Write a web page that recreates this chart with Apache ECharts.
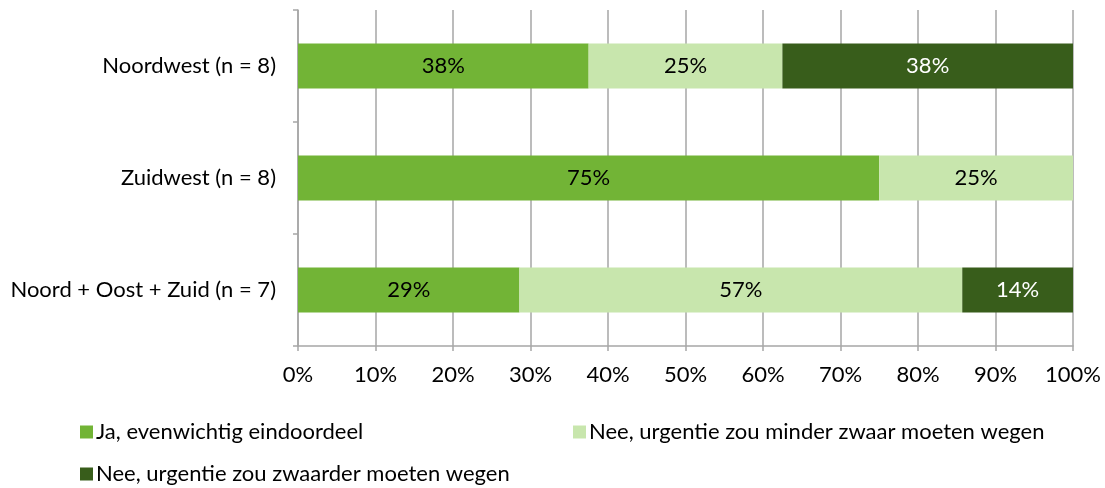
<!DOCTYPE html>
<html>
<head>
<meta charset="utf-8">
<script src="https://cdn.jsdelivr.net/npm/echarts@6/dist/echarts.min.js"></script>
<style>
html, body { margin: 0; padding: 0; background: #fff; }
#main { width: 1105px; height: 488px; }
</style>
</head>
<body>
<div id="main"></div>
<script>
// regio's van boven naar beneden
var regios = ['Noordwest (n = 8)', 'Zuidwest (n = 8)', 'Noord + Oost + Zuid (n = 7)'];
var reeksNamen = ['Ja, evenwichtig eindoordeel', 'Nee, urgentie zou minder zwaar moeten wegen', 'Nee, urgentie zou zwaarder moeten wegen'];
var jaEvenwichtig = [37.5, 75, 28.57];
var minderZwaar = [25, 25, 57.14];
var zwaarder = [37.5, 0, 14.29];
var xTicks = [0, 10, 20, 30, 40, 50, 60, 70, 80, 90, 100];

var kleuren = ['#72b436', '#c8e6ad', '#385d1b'];
var tekstKleur = ['#000', '#000', '#fff'];
var waarden = [jaEvenwichtig, minderZwaar, zwaarder];
var font = 'Lato';
var fs = 22;

var chart = echarts.init(document.getElementById('main'));

var series = reeksNamen.map(function (naam, i) {
    return {
        name: naam,
        type: 'bar',
        stack: 'totaal',
        barWidth: 45,
        data: waarden[i],
        itemStyle: { color: kleuren[i] },
        label: {
            show: true,
            position: 'inside',
            color: tekstKleur[i],
            fontFamily: font,
            fontSize: fs,
            formatter: function (p) {
                return p.value > 0 ? Math.round(p.value) + '%' : '';
            }
        }
    };
});

// legenda: drie losse blokken zoals in het origineel
var legendPos = [[75, 416], [568, 416], [75, 458]];
var legend = reeksNamen.map(function (naam, i) {
    return {
        left: legendPos[i][0],
        top: legendPos[i][1],
        data: [naam],
        itemWidth: 13,
        itemHeight: 13,
        itemGap: 0,
        icon: 'rect',
        selectedMode: false,
        textStyle: { fontFamily: font, fontSize: fs, color: '#000', padding: [0, 0, 0, -2] }
    };
});

var option = {
    animation: false,
    backgroundColor: '#fff',
    grid: { left: 298, right: 32, top: 10, bottom: 142 },
    legend: legend,
    xAxis: {
        type: 'value',
        min: 0,
        max: 100,
        interval: 10,
        axisLine: { show: true, lineStyle: { color: '#a6a6a6', width: 1.5 } },
        axisTick: { show: true, length: 5, lineStyle: { color: '#a6a6a6', width: 1.5 } },
        splitLine: { show: true, lineStyle: { color: '#a6a6a6', width: 1.5 } },
        axisLabel: {
            margin: 18,
            fontFamily: font,
            fontSize: fs,
            color: '#000',
            formatter: function (v) { return xTicks.indexOf(v) >= 0 ? v + '%' : ''; }
        }
    },
    yAxis: {
        type: 'category',
        inverse: true,
        data: regios,
        axisLine: { show: true, lineStyle: { color: '#a6a6a6', width: 1.5 } },
        axisTick: { show: true, length: 5, lineStyle: { color: '#a6a6a6', width: 1.5 } },
        axisLabel: { margin: 22, fontFamily: font, fontSize: fs, color: '#000' }
    },
    series: series
};

chart.setOption(option);
</script>
</body>
</html>
